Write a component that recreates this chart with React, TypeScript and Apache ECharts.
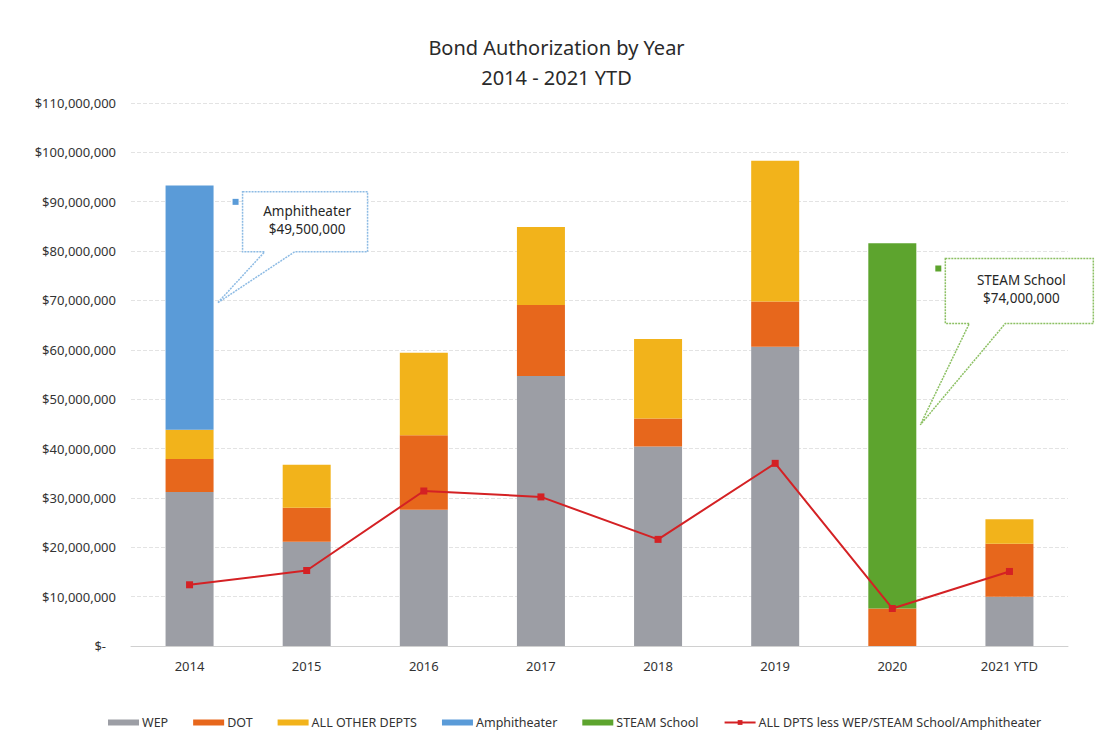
import React, { useEffect, useRef } from "react";
import * as echarts from "echarts";

const categories = ["2014", "2015", "2016", "2017", "2018", "2019", "2020", "2021 YTD"];
const wep = [31200000, 21100000, 27600000, 54700000, 40400000, 60600000, 0, 10000000];
const dot = [6700000, 6900000, 15100000, 14400000, 5700000, 9200000, 7600000, 10700000];
const otherDepts = [5900000, 8700000, 16700000, 15800000, 16100000, 28500000, 0, 5000000];
const amphitheater = [49500000, 0, 0, 0, 0, 0, 0, 0];
const steamSchool = [0, 0, 0, 0, 0, 0, 74000000, 0];
const allLess = [12400000, 15300000, 31400000, 30200000, 21600000, 37000000, 7600000, 15100000];
const yTicks = { min: 0, max: 110000000, interval: 10000000 };

const FONT = "'Noto Sans', 'Open Sans', sans-serif";
const C_WEP = "#9c9ea5";
const C_DOT = "#e7671c";
const C_OTHER = "#f2b31b";
const C_AMPH = "#5a9bd8";
const C_STEAM = "#5da42e";
const C_LINE = "#d42124";

function fmtMoney(v: number): string {
  if (v === 0) return "{z|$-}";
  return "$" + v.toLocaleString("en-US");
}

export default function App() {
  const ref = useRef<HTMLDivElement>(null);
  useEffect(() => {
    if (!ref.current) return;
    const chart = echarts.init(ref.current, undefined, { renderer: "svg" });
    const barBase = {
      type: "bar",
      stack: "total",
      barWidth: 48,
    };
    chart.setOption({
      animation: false,
      backgroundColor: "#ffffff",
      textStyle: { fontFamily: FONT },
      title: {
        text: "Bond Authorization by Year\n2014 - 2021 YTD",
        left: "center",
        top: 27,
        textStyle: { fontFamily: FONT, fontSize: 20, fontWeight: "normal", color: "#2a2a2a", lineHeight: 30 },
      },
      grid: { left: 131, right: 45, top: 103, bottom: 99, containLabel: false },
      legend: {
        top: 711,
        left: 103,
        itemGap: 25,
        itemWidth: 31,
        itemHeight: 6,
        textStyle: { fontFamily: FONT, fontSize: 12.5, color: "#333333", padding: [0, 0, 0, -2] },
        data: [
          { name: "WEP", icon: "rect" },
          { name: "DOT", icon: "rect" },
          { name: "ALL OTHER DEPTS", icon: "rect" },
          { name: "Amphitheater", icon: "rect" },
          { name: "STEAM School", icon: "rect" },
          { name: "ALL DPTS less WEP/STEAM School/Amphitheater" },
        ],
      },
      xAxis: {
        type: "category",
        data: categories,
        axisTick: { show: false },
        axisLine: { lineStyle: { color: "#d0d0d0" } },
        axisLabel: { fontFamily: FONT, fontSize: 13, color: "#333333", margin: 13 },
      },
      yAxis: {
        type: "value",
        min: yTicks.min,
        max: yTicks.max,
        interval: yTicks.interval,
        axisLine: { show: false },
        axisTick: { show: false },
        splitLine: { lineStyle: { color: "#e3e3e3", type: "dashed" } },
        axisLabel: {
          fontFamily: FONT,
          fontSize: 13,
          color: "#333333",
          margin: 15,
          formatter: fmtMoney,
          rich: { z: { fontFamily: FONT, fontSize: 13, color: "#333333", padding: [0, 10, 0, 0] } },
        },
      },
      series: [
        { ...barBase, name: "WEP", data: wep, itemStyle: { color: C_WEP } },
        { ...barBase, name: "DOT", data: dot, itemStyle: { color: C_DOT } },
        { ...barBase, name: "ALL OTHER DEPTS", data: otherDepts, itemStyle: { color: C_OTHER } },
        { ...barBase, name: "Amphitheater", data: amphitheater, itemStyle: { color: C_AMPH } },
        { ...barBase, name: "STEAM School", data: steamSchool, itemStyle: { color: C_STEAM } },
        {
          type: "line",
          name: "ALL DPTS less WEP/STEAM School/Amphitheater",
          data: allLess,
          symbol: "rect",
          symbolSize: 7,
          lineStyle: { color: C_LINE, width: 2 },
          itemStyle: { color: C_LINE },
          z: 5,
        },
      ],
    });

    const px = (i: number, v: number) => chart.convertToPixel({ xAxisIndex: 0, yAxisIndex: 0 }, [i, v]) as number[];

    function callout(
      idx: number,
      tipValue: number,
      boxTopValue: number,
      dx: number,
      w: number,
      h: number,
      tailL: number,
      tailR: number,
      color: string,
      fill: string,
      lines: string[]
    ) {
      const tip = px(idx, tipValue);
      const top = px(idx, boxTopValue);
      const tipX = tip[0] + 28;
      const tipY = tip[1];
      const bx = top[0] + dx;
      const by = top[1];
      const points = [
        [bx, by],
        [bx + w, by],
        [bx + w, by + h],
        [bx + tailR, by + h],
        [tipX, tipY],
        [bx + tailL, by + h],
        [bx, by + h],
      ];
      return [
        {
          type: "polygon",
          shape: { points },
          style: { fill: "#ffffff", stroke: color, lineWidth: 1.5, lineDash: [2, 1] },
          z: 100,
        },
        {
          type: "rect",
          shape: { x: bx - 10, y: by + 7, width: 6, height: 6 },
          style: { fill: fill },
          z: 100,
        },
        {
          type: "text",
          x: bx + w / 2 + 2,
          y: by + h / 2 - 2,
          style: {
            text: lines.join("\n"),
            fontFamily: FONT,
            fontSize: 13.5,
            lineHeight: 18,
            fill: "#262626",
            align: "center",
            verticalAlign: "middle",
          },
          z: 101,
        },
      ];
    }

    const g1 = callout(0, 69500000, 92000000, 53, 125, 60, 22, 52, "#8dbbe4", C_AMPH, ["Amphitheater", "$49,500,000"]);
    const g2 = callout(6, 44800000, 78500000, 53, 148, 65, 24, 60, "#8cc063", C_STEAM, ["STEAM School", "$74,000,000"]);
    chart.setOption({ graphic: [...g1, ...g2] });

    return () => chart.dispose();
  }, []);
  return <div ref={ref} style={{ position: "absolute", left: 0, top: 0, width: 1113, height: 745 }} />;
}
